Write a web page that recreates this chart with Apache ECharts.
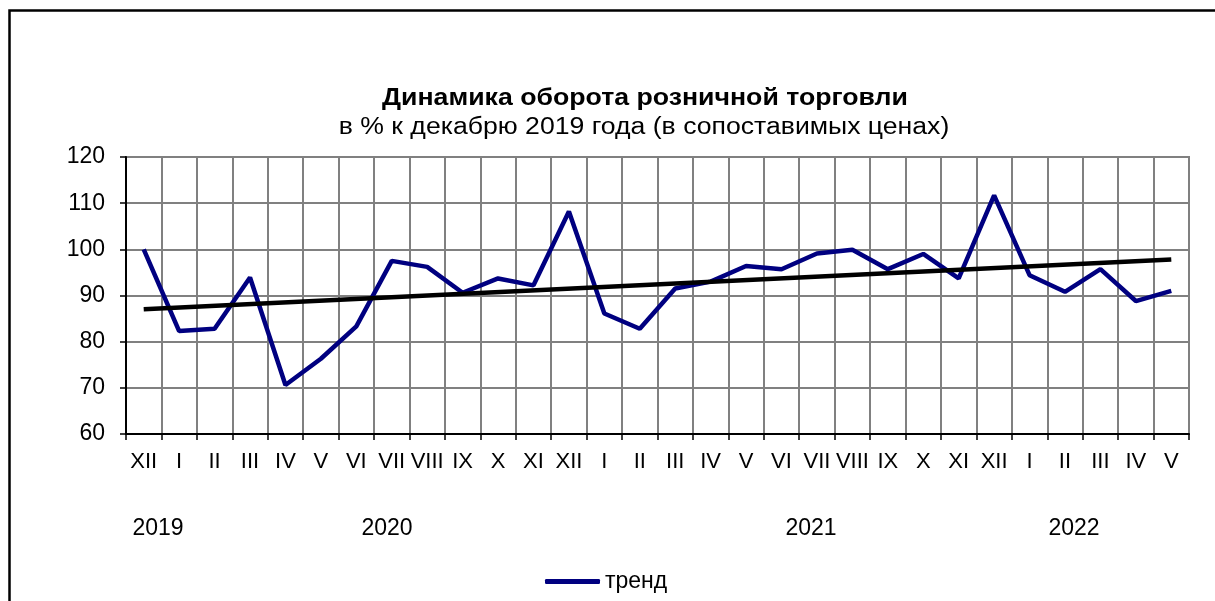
<!DOCTYPE html>
<html>
<head>
<meta charset="utf-8">
<script src="https://cdn.jsdelivr.net/npm/echarts@6/dist/echarts.min.js"></script>
<style>
  html, body { margin: 0; padding: 0; background: #fff; }
  #chart { width: 1215px; height: 601px; }
</style>
</head>
<body>
<div id="chart"></div>
<script>
var months = ['XII', 'I', 'II', 'III', 'IV', 'V', 'VI', 'VII', 'VIII', 'IX', 'X', 'XI', 'XII',
              'I', 'II', 'III', 'IV', 'V', 'VI', 'VII', 'VIII', 'IX', 'X', 'XI', 'XII',
              'I', 'II', 'III', 'IV', 'V'];
var turnover = [100, 82.3, 82.8, 93.9, 70.6, 76.3, 83.3, 97.5, 96.2, 90.6, 93.7, 92.2, 108.2,
                86.1, 82.8, 91.5, 93.0, 96.4, 95.7, 99.1, 99.9, 95.7, 99.0, 93.7, 111.7,
                94.4, 90.8, 95.7, 88.8, 91.0];
// trend line: only the two end points, joined by the library
var trendLine = [87.0, null, null, null, null, null, null, null, null, null, null, null, null,
                 null, null, null, null, null, null, null, null, null, null, null, null,
                 null, null, null, null, 97.8];
var years = ['2019', '2020', '2021', '2022'];
var yearX = [158, 387, 811, 1074];

var font = 'Liberation Sans, Arial, sans-serif';
var chart = echarts.init(document.getElementById('chart'));

var graphics = [
  { type: 'rect', shape: { x: 9.5, y: 10.5, width: 1220, height: 620 },
    style: { fill: null, stroke: '#000', lineWidth: 2.5 }, silent: true },
  { type: 'text', x: 645, y: 99, scaleX: 1.16,
    style: { text: 'Динамика оборота розничной торговли', font: 'bold 23px ' + font,
             fill: '#000', textAlign: 'center', textVerticalAlign: 'middle' } },
  { type: 'text', x: 644, y: 128, scaleX: 1.157,
    style: { text: 'в % к декабрю 2019 года (в сопоставимых ценах)', font: '23px ' + font,
             fill: '#000', textAlign: 'center', textVerticalAlign: 'middle' } }
];
years.forEach(function (y, i) {
  graphics.push({ type: 'text', x: yearX[i], y: 529,
    style: { text: y, font: '23px ' + font, fill: '#000', textAlign: 'center', textVerticalAlign: 'middle' } });
});

var option = {
  animation: false,
  backgroundColor: '#fff',
  textStyle: { fontFamily: font },
  grid: { left: 126, right: 26, top: 157, bottom: 167, show: true, borderColor: '#808080', borderWidth: 2 },
  legend: {
    data: ['тренд'],
    left: 540, top: 565,
    icon: 'roundRect',
    itemWidth: 55, itemHeight: 5, itemGap: 5,
    textStyle: { fontSize: 23, color: '#000', fontFamily: font }
  },
  xAxis: {
    type: 'category',
    data: months,
    boundaryGap: true,
    axisLine: { lineStyle: { color: '#000', width: 2 } },
    axisTick: { show: true, length: 6, lineStyle: { color: '#000', width: 1.5 } },
    axisLabel: { color: '#000', fontSize: 22, margin: 17, interval: 0, fontFamily: font },
    splitLine: { show: true, lineStyle: { color: '#808080', width: 2 } }
  },
  yAxis: {
    type: 'value',
    min: 60, max: 120, interval: 10,
    axisLine: { show: true, lineStyle: { color: '#000', width: 2 } },
    axisTick: { show: true, length: 6, lineStyle: { color: '#000', width: 1.5 } },
    axisLabel: { color: '#000', fontSize: 23, margin: 21, fontFamily: font },
    splitLine: { show: true, lineStyle: { color: '#808080', width: 2 } }
  },
  series: [
    {
      name: 'тренд', type: 'line', data: turnover,
      symbol: 'none', lineStyle: { color: '#000080', width: 4.5 }, itemStyle: { color: '#000080' }
    },
    {
      name: 'линия', type: 'line', data: trendLine, connectNulls: true,
      symbol: 'none', lineStyle: { color: '#000', width: 4.5 }, itemStyle: { color: '#000' }
    }
  ],
  graphic: graphics
};
chart.setOption(option);
</script>
</body>
</html>
